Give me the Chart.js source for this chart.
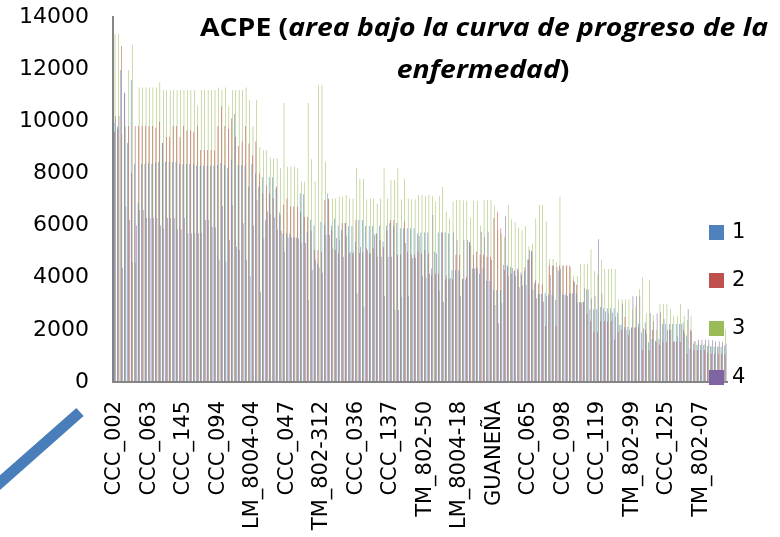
<!DOCTYPE html>
<html>
<head>
<meta charset="utf-8">
<script src="https://cdn.jsdelivr.net/npm/chart.js@4.4.0/dist/chart.umd.min.js"></script>
<style>
  html, body { margin: 0; padding: 0; background: #fff; }
  #wrap { width: 780px; height: 537px; position: relative; }
</style>
</head>
<body>
<div id="wrap"><canvas id="acpeChart" width="780" height="537"></canvas></div>
<script>
// Tick labels shown under the axis (one every 10 accessions)
const shownLabels = ['CCC_002', 'CCC_063', 'CCC_145', 'CCC_094', 'LM_8004-04', 'CCC_047',
    'TM_802-312', 'CCC_036', 'CCC_137', 'TM_802-50', 'LM_8004-18', 'GUANEÑA',
    'CCC_065', 'CCC_098', 'CCC_119', 'TM_802-99', 'CCC_125', 'TM_802-07'];
const labelStep = 10;

const seriesNames = ['1', '2', '3', '4'];
const yTicks = [0, 2000, 4000, 6000, 8000, 10000, 12000, 14000];

// ACPE per accession, series 1
const serie1 = [
    9930, 9800, 11970, 11100, 9170, 11580, 8360, 6860, 8360, 8360,
    8400, 8360, 8400, 8440, 9170, 8440, 8440, 8440, 8440, 8360,
    8360, 8360, 8360, 8360, 8300, 8290, 8290, 8290, 8290, 8300,
    8320, 8400, 8320, 8200, 8530, 10280, 8320, 8320, 8300, 7500,
    8350, 8000, 7500, 7850, 6210, 7850, 7850, 7430, 6500, 5700,
    5700, 5700, 5540, 5540, 7240, 7200, 5750, 6210, 6000, 4550,
    6150, 6000, 7230, 6000, 6270, 6000, 5830, 6100, 5980, 5980,
    5380, 6210, 6210, 5980, 5980, 5980, 5700, 6000, 5380, 6000,
    6100, 5980, 6100, 5900, 5900, 5900, 5900, 5900, 5700, 5730,
    5730, 5730, 4350, 5000, 5730, 5730, 5730, 5700, 4290, 4290,
    4290, 3940, 3940, 5370, 4350, 4400, 4140, 4350, 3870, 3870,
    3530, 3530, 3530, 4490, 4490, 4400, 4250, 4350, 4200, 4270,
    4700, 5000, 3800, 3380, 3380, 3400, 3350, 3350, 3150, 4270,
    3350, 3350, 3400, 3400, 3400, 3060, 3060, 3550, 2780, 2780,
    2800, 2880, 2830, 2830, 2830, 2830, 2650, 2200, 2100, 2120,
    2080, 2080, 2240, 1900, 2280, 1520, 1650, 1580, 1650, 2220,
    2220, 2220, 2220, 2220, 2220, 2280, 1780, 1280, 1480, 1420,
    1420, 1420, 1380, 1380, 1350, 1350, 1350, 1400
];
// series 2
const serie2 = [
    9600, 9700, 12890, 11070, 9820, 8020, 9820, 9820, 9820, 9820,
    9820, 9820, 9750, 9980, 9170, 9400, 9400, 9820, 9820, 9400,
    9820, 9650, 9650, 9600, 9820, 8900, 8900, 8900, 8900, 8890,
    9820, 10580, 9820, 9700, 10110, 9400, 9050, 9220, 9820, 9150,
    8700, 9220, 8000, 7230, 7530, 7230, 7060, 7500, 6410, 6800,
    7040, 6730, 6730, 6730, 6500, 6340, 6340, 5800, 5060, 5060,
    5000, 6980, 7030, 5830, 5060, 4930, 6100, 6100, 4930, 4930,
    6200, 4950, 4950, 5130, 4930, 5130, 5700, 5450, 5180, 5830,
    6210, 6200, 4880, 4880, 6150, 5000, 4880, 4880, 5000, 4930,
    5060, 4930, 4100, 4150, 4150, 5730, 3940, 3940, 3940, 4880,
    4880, 3960, 4040, 5370, 4880, 5000, 4880, 4880, 4800, 4800,
    6280, 6530, 5890, 4290, 4400, 4150, 4290, 4290, 4100, 4400,
    4700, 5040, 3890, 3780, 3750, 2150, 4470, 4470, 2150, 4470,
    4470, 4470, 4470, 3890, 3730, 3060, 3080, 2610, 2330, 1930,
    1930, 2330, 2330, 2330, 2330, 1630, 1900, 2000, 2500, 1800,
    2100, 2100, 2100, 1230, 2000, 1230, 2000, 1530, 1430, 1530,
    1530, 2000, 1530, 1530, 1530, 2000, 1080, 2000, 1230, 1230,
    1230, 1230, 1130, 1080, 1080, 1080, 1080, 1080
];
// series 3
const serie3 = [
    13350, 13350, 9500, 9800, 11970, 12950, 4560, 11300, 11300, 11300,
    11300, 11300, 11300, 11500, 11200, 11200, 11200, 11200, 11200, 11200,
    11200, 11200, 11200, 11200, 10600, 11200, 11200, 11200, 11200, 11200,
    11300, 11200, 11300, 10580, 11200, 11200, 11200, 11200, 11300, 10810,
    9800, 10810, 9000, 8890, 8890, 8600, 8570, 8570, 8200, 10700,
    8260, 8260, 8260, 8200, 7680, 7680, 10700, 8540, 7700, 11400,
    11400, 8450, 7000, 7040, 7040, 7110, 7110, 7170, 7040, 7040,
    8200, 7800, 7800, 7000, 7040, 7040, 6850, 7040, 8200, 7040,
    7750, 7750, 8200, 7000, 7800, 7040, 7000, 7000, 7170, 7170,
    7120, 7170, 7120, 6910, 7120, 7480, 6530, 6280, 6910, 6980,
    6980, 6960, 6950, 6300, 6950, 6950, 5980, 6980, 6980, 6980,
    6760, 5830, 5700, 5570, 6790, 6240, 6140, 5930, 5800, 5980,
    5200, 5300, 6280, 6790, 6790, 6150, 4720, 4720, 4600, 7110,
    4470, 4470, 4380, 4080, 4080, 4540, 4540, 4540, 5090, 4250,
    4100, 4700, 4330, 4330, 4330, 4330, 3170, 3170, 3170, 3170,
    2800, 2900, 3560, 4020, 2640, 3900, 2580, 2000, 2990, 2990,
    2990, 2800, 2540, 2540, 2990, 2540, 2390, 2540, 1570, 1480,
    1450, 1450, 1410, 1350, 1350, 1350, 1350, 2010
];
// series 4
const serie4 = [
    10200, 10200, 4370, 6730, 6210, 4600, 6000, 6600, 6600, 6290,
    6290, 6290, 6290, 6000, 5900, 6290, 6290, 6290, 5850, 5850,
    6290, 5700, 5700, 5710, 5710, 5710, 6210, 6210, 5950, 5930,
    4700, 6750, 4610, 5450, 6790, 5190, 5060, 6090, 4680, 4060,
    6000, 6980, 3450, 5500, 6540, 6440, 6310, 5830, 5800, 5000,
    5540, 5540, 5540, 5500, 5330, 5330, 3140, 4300, 4690, 4400,
    4190, 5640, 5640, 5130, 5520, 5450, 4800, 5580, 5000, 5000,
    3400, 5180, 2890, 5050, 4940, 5650, 4800, 4800, 3300, 4800,
    4800, 2760, 2760, 3270, 5330, 3300, 4750, 4750, 5600, 4080,
    4000, 4150, 6410, 4930, 3490, 3080, 4080, 4000, 5730, 5450,
    3300, 5450, 5450, 5250, 4350, 4350, 5760, 5560, 5760, 4680,
    2950, 2250, 3030, 6380, 4080, 4370, 4080, 3630, 3700, 3730,
    5060, 3550, 3200, 3380, 3080, 3300, 4100, 4470, 4400, 4340,
    3350, 3300, 3400, 3850, 3060, 3050, 3600, 3550, 3200, 3300,
    5480, 3400, 2700, 2630, 2660, 2500, 2180, 3000, 2000, 2000,
    3290, 3290, 3290, 2050, 1850, 2650, 2330, 2630, 2680, 2420,
    2000, 2000, 1560, 1750, 2220, 1880, 2800, 1950, 1560, 1620,
    1620, 1620, 1620, 1600, 1560, 1560, 1540, 1480
];

const seriesColors = ['#4F81BD', '#C0504D', '#9BBB59', '#8064A2'];

// one category per accession, only every 10th is named on the axis
const categories = serie1.map((v, i) => i % labelStep === 0 ? (shownLabels[i / labelStep] || '') : '');

const tickFont = '"DejaVu Sans", sans-serif';

// title, legend and the arrow shape drawn over the chart like in the original slide
const overlayPlugin = {
    id: 'overlay',
    afterDraw(chart) {
        const ctx = chart.ctx;
        ctx.save();

        // Title with mixed upright / italic runs
        const size = 25;
        const fam = '"Open Sans", sans-serif';
        const line1 = [
            { text: 'ACPE (', italic: false },
            { text: 'area bajo la curva de progreso de la', italic: true }
        ];
        const line2 = [
            { text: 'enfermedad', italic: true },
            { text: ')', italic: false }
        ];
        const measure = runs => runs.reduce((s, r) => {
            ctx.font = (r.italic ? 'italic ' : '') + 'bold ' + size + 'px ' + fam;
            r.w = ctx.measureText(r.text).width;
            return s + r.w;
        }, 0);
        const w1 = measure(line1);
        const w2 = measure(line2);
        const sx = 568 / w1;
        const drawLine = (runs, width, cx, baseY) => {
            ctx.save();
            ctx.translate(cx - width * sx / 2, baseY);
            ctx.scale(sx, 1);
            let x = 0;
            runs.forEach(r => {
                ctx.font = (r.italic ? 'italic ' : '') + 'bold ' + size + 'px ' + fam;
                ctx.fillStyle = '#000';
                ctx.textBaseline = 'alphabetic';
                ctx.fillText(r.text, x, 0);
                x += r.w;
            });
            ctx.restore();
        };
        drawLine(line1, w1, 484, 36);
        drawLine(line2, w2, 483, 78);

        // Legend (sits on top of the plot area, as in the original)
        const legendY = [225, 273, 321, 370];
        chart.data.datasets.forEach((ds, i) => {
            ctx.fillStyle = ds.backgroundColor;
            ctx.fillRect(709, legendY[i], 15, 15);
            ctx.fillStyle = '#000';
            ctx.font = '21px ' + tickFont;
            ctx.textBaseline = 'middle';
            ctx.textAlign = 'left';
            ctx.fillText(ds.label, 732, legendY[i] + 8);
        });

        // Blue connector shape in the lower left corner
        ctx.strokeStyle = '#4A7EBB';
        ctx.lineWidth = 11;
        ctx.lineCap = 'butt';
        ctx.beginPath();
        ctx.moveTo(-6, 488);
        ctx.lineTo(80, 412);
        ctx.stroke();

        ctx.restore();
    }
};

const ctx = document.getElementById('acpeChart').getContext('2d');
const acpeChart = new Chart(ctx, {
    type: 'bar',
    data: {
        labels: categories,
        datasets: [serie1, serie2, serie3, serie4].map((d, i) => ({
            label: seriesNames[i],
            data: d,
            backgroundColor: seriesColors[i],
            borderWidth: 0,
            categoryPercentage: 0.62,
            barPercentage: 1.0
        }))
    },
    options: {
        responsive: false,
        animation: false,
        layout: { padding: { top: 17, right: 53, left: 0, bottom: 0 } },
        plugins: {
            legend: { display: false },
            title: { display: false },
            tooltip: { enabled: false }
        },
        scales: {
            x: {
                // invisible tick marks give the gap between axis and labels
                grid: { display: true, drawOnChartArea: false, drawTicks: true, tickLength: 19, color: 'rgba(0,0,0,0)' },
                border: { display: true, color: '#868686', width: 2 },
                ticks: {
                    autoSkip: false,
                    maxRotation: 90,
                    minRotation: 90,
                    padding: 0,
                    color: '#000',
                    font: { family: tickFont, size: 21 }
                },
                afterFit: scale => { scale.height = 155; }
            },
            y: {
                min: yTicks[0],
                max: yTicks[yTicks.length - 1],
                afterBuildTicks: scale => { scale.ticks = yTicks.map(v => ({ value: v })); },
                grid: { display: true, drawOnChartArea: false, drawTicks: true, tickLength: 24, color: 'rgba(0,0,0,0)' },
                border: { display: true, color: '#868686', width: 2 },
                ticks: {
                    padding: 0,
                    color: '#000',
                    font: { family: tickFont, size: 22 },
                    callback: v => String(v)
                },
                afterFit: scale => { scale.width = 113; }
            }
        }
    },
    plugins: [overlayPlugin]
});
</script>
</body>
</html>
